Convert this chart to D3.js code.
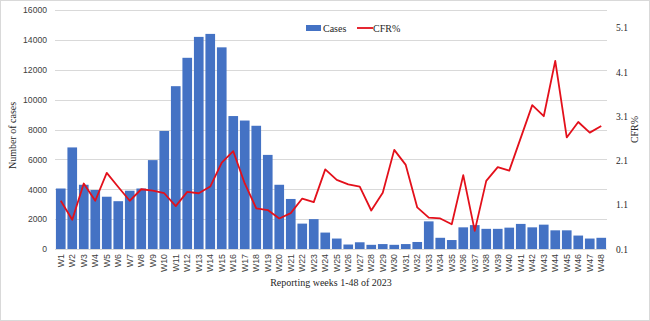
<!DOCTYPE html>
<html>
<head>
<meta charset="utf-8">
<script src="https://cdn.jsdelivr.net/npm/d3@7"></script>
<style>
  html, body { margin: 0; padding: 0; background: #fff; }
  svg { display: block; }
</style>
</head>
<body>
<svg id="chart" width="650" height="321"></svg>
<script>
// weeks 1-48 of 2023
const weeks = d3.range(1, 49).map(i => 'W' + i);

const cases = [
  4050, 6800, 4300, 3950, 3500, 3200, 3900, 4050, 5950, 7900,
  10900, 12800, 14200, 14400, 13500, 8900, 8600, 8250, 6300, 4300,
  3350, 1700, 2000, 1100, 700, 300, 450, 280, 330, 280,
  330, 470, 1850, 750, 600, 1450, 1600, 1350, 1350, 1430,
  1680, 1450, 1630, 1250, 1250, 900, 700, 750
];

const cfr = [
  1.19, 0.76, 1.58, 1.19, 1.82, 1.50, 1.19, 1.45, 1.42, 1.36,
  1.07, 1.39, 1.36, 1.51, 2.05, 2.31, 1.58, 1.02, 0.98, 0.79,
  0.91, 1.24, 1.16, 1.90, 1.66, 1.56, 1.51, 0.97, 1.37, 2.34,
  2.00, 1.04, 0.81, 0.79, 0.66, 1.77, 0.51, 1.64, 1.95, 1.87,
  2.61, 3.35, 3.10, 4.35, 2.62, 2.97, 2.73, 2.88
];

const leftTicks = d3.range(0, 16001, 2000);
const rightTicks = [0.1, 1.1, 2.1, 3.1, 4.1, 5.1];

const width = 650, height = 321;
const plot = { left: 55, right: 607, top: 10, bottom: 249 };

const svg = d3.select('#chart');

// outer border
svg.append('rect')
  .attr('x', 0.5).attr('y', 0.5)
  .attr('width', width - 1).attr('height', height - 1)
  .attr('fill', '#fff')
  .attr('stroke', '#d9d9d9');

const x = d3.scaleBand()
  .domain(weeks)
  .range([plot.left, plot.right])
  .paddingInner(0.16)
  .paddingOuter(0.08);

const y = d3.scaleLinear().domain([0, 16000]).range([plot.bottom, plot.top]);
const y2 = d3.scaleLinear().domain([0.1, 5.5]).range([plot.bottom, plot.top]);

// gridlines
svg.append('g')
  .selectAll('line')
  .data(leftTicks)
  .join('line')
  .attr('x1', plot.left).attr('x2', plot.right)
  .attr('y1', d => Math.round(y(d)) + 0.5)
  .attr('y2', d => Math.round(y(d)) + 0.5)
  .attr('stroke', '#d9d9d9')
  .attr('stroke-width', 1);

// bars
svg.append('g')
  .selectAll('rect')
  .data(cases)
  .join('rect')
  .attr('x', (d, i) => x(weeks[i]))
  .attr('y', d => y(d))
  .attr('width', x.bandwidth())
  .attr('height', d => y(0) - y(d))
  .attr('fill', '#4472c4');

// CFR line
const line = d3.line()
  .x((d, i) => x(weeks[i]) + x.bandwidth() / 2)
  .y(d => y2(d));

svg.append('path')
  .datum(cfr)
  .attr('d', line)
  .attr('fill', 'none')
  .attr('stroke', '#e3101b')
  .attr('stroke-width', 1.8)
  .attr('stroke-linejoin', 'round');

// left axis
const leftAxis = svg.append('g')
  .attr('transform', `translate(${plot.left - 8},0)`)
  .call(d3.axisLeft(y).tickValues(leftTicks).tickSize(0).tickFormat(d3.format('d')));
leftAxis.select('.domain').remove();
leftAxis.selectAll('text')
  .attr('x', 0)
  .attr('font-family', 'Liberation Sans, Arial, sans-serif')
  .attr('font-size', 8.6)
  .attr('fill', '#404040');

// right axis
const rightAxis = svg.append('g')
  .attr('transform', `translate(${plot.right + 9},0)`)
  .call(d3.axisRight(y2).tickValues(rightTicks).tickSize(0).tickFormat(d3.format('.1f')));
rightAxis.select('.domain').remove();
rightAxis.selectAll('text')
  .attr('x', 0)
  .attr('font-family', 'Liberation Serif, Times New Roman, serif')
  .attr('font-size', 9.5)
  .attr('fill', '#262626');

// x axis labels
const xAxis = svg.append('g')
  .attr('transform', `translate(0,${plot.bottom + 5})`)
  .call(d3.axisBottom(x).tickSize(0));
xAxis.select('.domain').remove();
xAxis.selectAll('text')
  .attr('transform', 'rotate(-90)')
  .attr('x', 0)
  .attr('y', 0)
  .attr('dy', '0.35em')
  .attr('text-anchor', 'end')
  .attr('font-family', 'Liberation Sans, Arial, sans-serif')
  .attr('font-size', 8.8)
  .attr('fill', '#404040');

// axis titles
svg.append('text')
  .attr('transform', `translate(16,${(plot.top + plot.bottom) / 2 + 6}) rotate(-90)`)
  .attr('text-anchor', 'middle')
  .attr('font-family', 'Liberation Serif, Times New Roman, serif')
  .attr('font-size', 10)
  .attr('fill', '#262626')
  .text('Number of cases');

svg.append('text')
  .attr('transform', `translate(638,${(plot.top + plot.bottom) / 2}) rotate(-90)`)
  .attr('text-anchor', 'middle')
  .attr('font-family', 'Liberation Serif, Times New Roman, serif')
  .attr('font-size', 10)
  .attr('fill', '#262626')
  .text('CFR%');

svg.append('text')
  .attr('x', (plot.left + plot.right) / 2)
  .attr('y', 286)
  .attr('text-anchor', 'middle')
  .attr('font-family', 'Liberation Serif, Times New Roman, serif')
  .attr('font-size', 10)
  .attr('fill', '#262626')
  .text('Reporting weeks 1-48 of 2023');

// legend
const legend = svg.append('g').attr('transform', 'translate(306,28)');
legend.append('rect')
  .attr('x', 0).attr('y', -3)
  .attr('width', 15).attr('height', 6)
  .attr('fill', '#4472c4');
legend.append('text')
  .attr('x', 17).attr('y', 0).attr('dy', '0.35em')
  .attr('font-family', 'Liberation Serif, Times New Roman, serif')
  .attr('font-size', 10)
  .attr('fill', '#262626')
  .text('Cases');
legend.append('line')
  .attr('x1', 51).attr('x2', 67)
  .attr('y1', 0).attr('y2', 0)
  .attr('stroke', '#e3101b')
  .attr('stroke-width', 1.8);
legend.append('text')
  .attr('x', 67).attr('y', 0).attr('dy', '0.35em')
  .attr('font-family', 'Liberation Serif, Times New Roman, serif')
  .attr('font-size', 10)
  .attr('fill', '#262626')
  .text('CFR%');
</script>
</body>
</html>
